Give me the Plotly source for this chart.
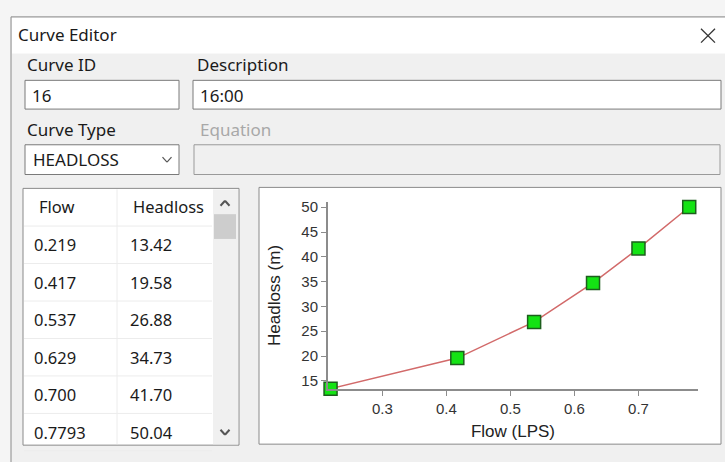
import plotly.graph_objects as go

W, H = 725, 462

# curve data
flow = [0.219, 0.417, 0.537, 0.629, 0.700, 0.7793]
headloss = [13.42, 19.58, 26.88, 34.73, 41.70, 50.04]
flow_text = ["0.219", "0.417", "0.537", "0.629", "0.700", "0.7793"]
headloss_text = ["13.42", "19.58", "26.88", "34.73", "41.70", "50.04"]
x_ticks = [0.3, 0.4, 0.5, 0.6, 0.7]
y_ticks = [15, 20, 25, 30, 35, 40, 45, 50]

curve_id = "16"
description = "16:00"
curve_type = "HEADLOSS"

UI_FONT = "Noto Sans"
CHART_FONT = "Liberation Sans"


def px(x):
    return x / W


def py(y):
    return 1 - y / H


def rect(x0, y0, x1, y1, fill, line="#7a7a7a", width=1):
    return dict(type="rect", xref="paper", yref="paper",
                x0=px(x0), y0=py(y0), x1=px(x1), y1=py(y1),
                fillcolor=fill, line=dict(color=line, width=width), layer="below")


def seg(x0, y0, x1, y1, color, width=1, layer="below"):
    return dict(type="line", xref="paper", yref="paper",
                x0=px(x0), x1=px(x1), y0=py(y0), y1=py(y1),
                line=dict(color=color, width=width), layer=layer)


def chevron(xc, yc, w, h, up, color, width):
    # small polyline arrow made of two segments
    tip = yc - h / 2 if up else yc + h / 2
    base = yc + h / 2 if up else yc - h / 2
    return [seg(xc - w / 2, base, xc, tip, color, width, "above"),
            seg(xc, tip, xc + w / 2, base, color, width, "above")]


def label(text, x, y, size=17, color="#1a1a1a", font=UI_FONT, anchor="left"):
    return dict(text=text, xref="paper", yref="paper", x=px(x), y=py(y),
                xanchor=anchor, yanchor="middle", showarrow=False,
                font=dict(family=font, size=size, color=color))


shapes = [
    # dialog body and title bar
    rect(11, 13, 727, 464, "#f0f0f0", line="#8a8a8a"),
    rect(12, 14, 727, 50, "#ffffff", line="#ffffff", width=0),
    # text boxes
    rect(25, 77, 179, 106, "#ffffff"),
    rect(193, 77, 721, 106, "#ffffff"),
    rect(25, 142, 179, 172, "#ffffff"),
    rect(194, 142, 720, 172, "#f0f0f0", line="#9a9a9a"),
    # table
    rect(23, 186, 239, 445, "#ffffff", line="#8a8a8a"),
    rect(213, 187, 238, 444, "#f0f0f0", line="#f0f0f0", width=0),
    rect(214, 212, 236, 237, "#cdcdcd", line="#cdcdcd", width=0),
    seg(117, 187, 117, 444, "#ececec"),
    # chart panel
    rect(259, 185, 721, 444, "#ffffff", line="#8a8a8a"),
    # close cross
    seg(701, 25, 715, 39, "#333333", 1.3, "above"),
    seg(701, 39, 715, 25, "#333333", 1.3, "above"),
]
shapes += chevron(167, 157, 9, 5, False, "#555555", 1.2)
shapes += chevron(225, 201, 9, 5, True, "#555555", 2)
shapes += chevron(225, 432, 9, 5, False, "#555555", 2)

row_h = 37.8
for i in range(len(flow) + 1):
    y = 224 + i * row_h
    shapes.append(seg(24, y, 212, y, "#ececec"))

annotations = [
    label("Curve Editor", 16, 31),
    label("Curve ID", 25, 61),
    label("Description", 195, 61),
    label(curve_id, 30, 92),
    label(description, 198, 92),
    label("Curve Type", 25, 127),
    label("Equation", 198, 127, color="#a8a8a8"),
    label(curve_type, 31, 157),
    label("Flow", 37, 204, size=16.5),
    label("Headloss", 131, 204, size=16.5),
]
for i, (f, h) in enumerate(zip(flow_text, headloss_text)):
    yc = 243 + i * row_h
    annotations.append(label(f, 32, yc, size=16.5))
    annotations.append(label(h, 128, yc, size=16.5))

fig = go.Figure()
fig.add_trace(go.Scatter(
    x=flow,
    y=headloss,
    mode="lines+markers",
    line=dict(color="#d26a6a", width=1.5),
    marker=dict(symbol="square", size=13, color="#14e314",
                line=dict(color="#1d5e1d", width=1.5)),
    cliponaxis=False,
    hoverinfo="x+y",
))

axis_color = "#8c8c8c"
fig.update_layout(
    width=W, height=H, autosize=False,
    margin=dict(l=0, r=0, t=0, b=0),
    paper_bgcolor="#f5f5f5",
    plot_bgcolor="#ffffff",
    showlegend=False,
    shapes=shapes,
    annotations=annotations,
    xaxis=dict(
        domain=[px(328), px(698)],
        range=[0.215, 0.793],
        tickvals=x_ticks, ticktext=[f"{v:.1f}" for v in x_ticks],
        showline=True, linecolor=axis_color, linewidth=2,
        ticks="outside", ticklen=5, tickcolor=axis_color, tickwidth=1,
        showgrid=False, zeroline=False,
        tickfont=dict(family=CHART_FONT, size=15, color="#333333"),
        title=dict(text="Flow (LPS)", standoff=9,
                   font=dict(family=CHART_FONT, size=17, color="#222222")),
    ),
    yaxis=dict(
        domain=[py(388), py(200)],
        range=[13.42, 51],
        tickvals=y_ticks,
        showline=True, linecolor=axis_color, linewidth=2,
        ticks="outside", ticklen=5, tickcolor=axis_color, tickwidth=1,
        showgrid=False, zeroline=False,
        tickfont=dict(family=CHART_FONT, size=15, color="#333333"),
        title=dict(text="Headloss (m)", standoff=16,
                   font=dict(family=CHART_FONT, size=17, color="#222222")),
    ),
)

# drop the browser's default body margin so the figure sits at the page origin
fig.write_html("out.html", config={"displayModeBar": False},
               post_script="document.body.style.margin='0';")
